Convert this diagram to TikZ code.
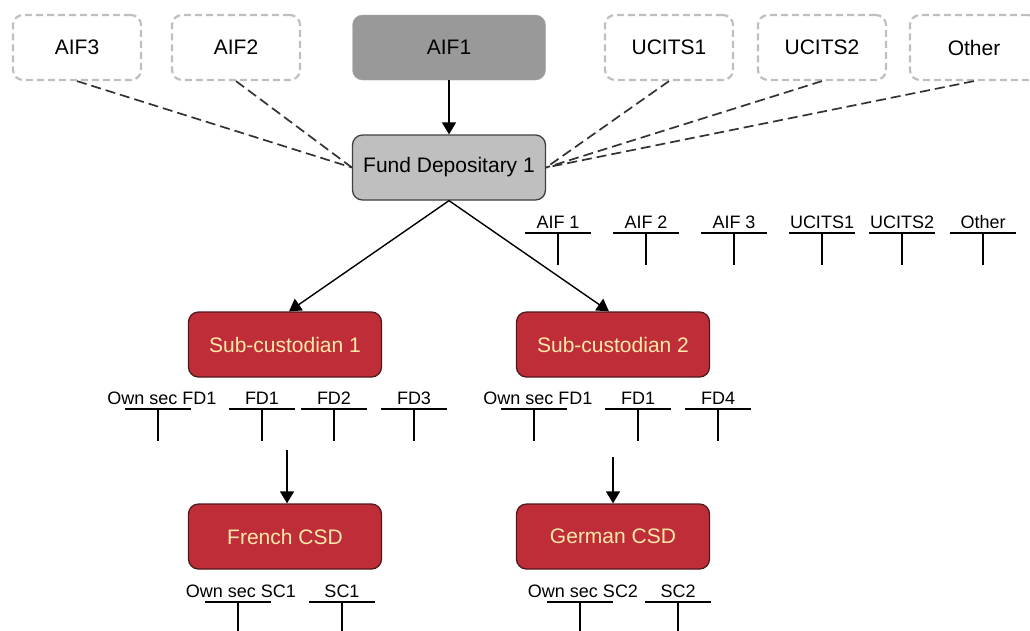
\documentclass[tikz,border=0pt]{standalone}
\usepackage{fontspec}
\setmainfont{Liberation Sans}
\usetikzlibrary{arrows.meta}

\definecolor{agent red}{RGB}{191,45,56}
\definecolor{agent edge}{RGB}{80,25,28}
\definecolor{agent text}{RGB}{255,233,170}
\colorlet{ghost edge}{black!25}
\colorlet{feed line}{black!80}
\tikzset{
  box/.style={rounded corners=10pt, minimum height=65pt, align=center,
    font=\fontsize{21}{25}\selectfont},
  ghost/.style={box, draw=ghost edge, line width=2.2pt,
    dash pattern=on 7pt off 4pt, minimum width=128pt},
  fund/.style={box, fill=black!40, draw=black!35, minimum width=193pt},
  depositary/.style={box, fill=black!25, draw=black!75, line width=1.3pt,
    minimum width=193pt},
  agent/.style={box, fill=agent red, draw=agent edge, line width=1.3pt,
    text=agent text, minimum width=193pt},
  feed/.style={draw=feed line, line width=1.7pt, dash pattern=on 10pt off 5pt},
  link/.style={draw=black, line width=1.4pt, -{Triangle[length=12pt,width=14pt]}},
  tline/.style={line width=1.3pt},
  tlabel/.style={anchor=base, inner sep=0pt, font=\fontsize{18}{21}\selectfont}
}

% T-account: [label shift], name, x, y, heading
\newcommand{\taccount}[5][0]{
  \coordinate (#2) at (#3,#4);
  \draw[tline] ([xshift=-33pt]#2) -- ([xshift=33pt]#2);
  \draw[tline] (#2) -- ++(0,32);
  \node[tlabel] (#2-head) at ([xshift=#1pt,yshift=5pt]#2) {#5};
}

\begin{document}
\begin{tikzpicture}[x=1pt,y=-1pt]
  \useasboundingbox (0,0) rectangle (1030,630);

  % funds along the top
  \node[ghost] (aif3) at (77,47.5) {AIF3};
  \node[ghost] (aif2) at (236,47.5) {AIF2};
  \node[fund] (aif1) at (449,47.5) {AIF1};
  \node[ghost] (ucits1) at (669,47.5) {UCITS1};
  \node[ghost] (ucits2) at (822,47.5) {UCITS2};
  \node[ghost] (other) at (974,47.5) {Other};

  \node[depositary] (fd) at (449,167.5) {Fund Depositary 1};

  \node[agent] (sub1) at (285,344.5) {Sub-custodian 1};
  \node[agent] (sub2) at (613,344.5) {Sub-custodian 2};
  \node[agent] (french) at (285,536.5) {French CSD};
  \node[agent] (german) at (613,536.5) {German CSD};

  % other funds of the same depositary
  \draw[feed] (aif3.south) -- (fd.west);
  \draw[feed] (aif2.south) -- (fd.west);
  \draw[feed] (ucits1.south) -- (fd.east);
  \draw[feed] (ucits2.south) -- (fd.east);
  \draw[feed] (other.south) -- (fd.east);

  \draw[link] (aif1) -- (fd);
  \draw[link] (fd.south) -- ([xshift=4pt]sub1.north);
  \draw[link] (fd.south) -- ([xshift=-4pt]sub2.north);

  % accounts at the depositary
  \taccount{fd-aif1}{558}{233}{AIF 1}
  \taccount{fd-aif2}{646}{233}{AIF 2}
  \taccount{fd-aif3}{734}{233}{AIF 3}
  \taccount{fd-ucits1}{822}{233}{UCITS1}
  \taccount{fd-ucits2}{902}{233}{UCITS2}
  \taccount{fd-other}{983}{233}{Other}

  % accounts at the sub-custodians
  \taccount[4]{sc1-own}{158}{409}{Own sec FD1}
  \taccount{sc1-fd1}{262}{409}{FD1}
  \taccount{sc1-fd2}{334}{409}{FD2}
  \taccount{sc1-fd3}{414}{409}{FD3}
  \taccount[4]{sc2-own}{534}{409}{Own sec FD1}
  \taccount{sc2-fd1}{638}{409}{FD1}
  \taccount{sc2-fd4}{718}{409}{FD4}

  \coordinate (fr-feed) at (287,450);
  \coordinate (de-feed) at (613,457);
  \draw[link] (fr-feed) -- (fr-feed |- french.north);
  \draw[link] (de-feed) -- (german.north);

  % accounts at the CSDs
  \taccount[3]{fr-own}{238}{602}{Own sec SC1}
  \taccount{fr-sc1}{342}{602}{SC1}
  \taccount[3]{de-own}{580}{602}{Own sec SC2}
  \taccount{de-sc2}{678}{602}{SC2}
\end{tikzpicture}
\end{document}
